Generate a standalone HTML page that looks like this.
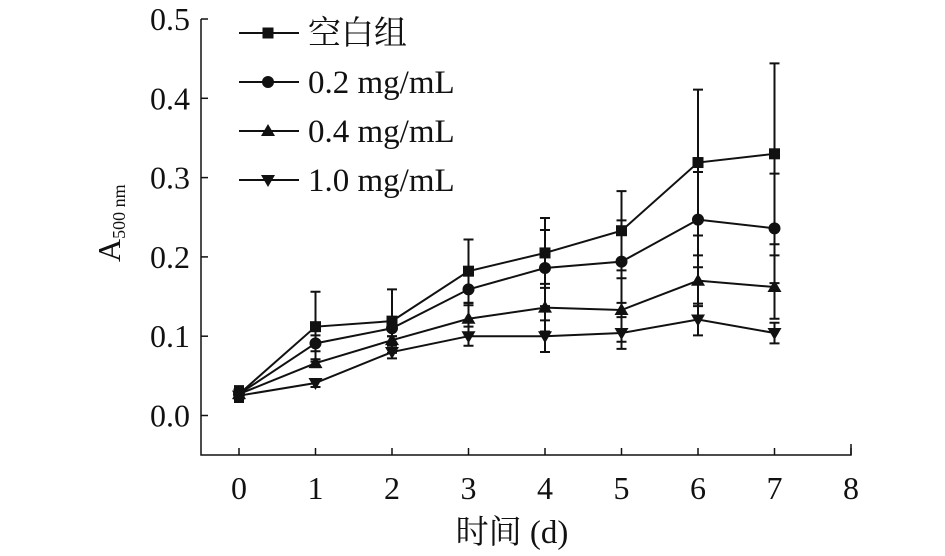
<!DOCTYPE html>
<html><head><meta charset="utf-8"><style>
body{margin:0;background:#fff}
svg text{font-family:"Liberation Serif","Noto Serif CJK SC",serif;fill:#111}
</style></head><body>
<svg width="945" height="551" viewBox="0 0 945 551">
<g id="axes"></g><g id="series"></g><g id="legend"></g>
</svg>
<script>
const days=[0,1,2,3,4,5,6,7];
const blankVals=[0.027,0.112,0.119,0.182,0.205,0.233,0.319,0.330];
const blankErr=[0.01,0.044,0.04,0.04,0.044,0.05,0.092,0.114];
const c02Vals=[0.027,0.091,0.110,0.159,0.186,0.194,0.247,0.236];
const c02Err=[0.008,0.01,0.01,0.02,0.048,0.052,0.06,0.069];
const c04Vals=[0.027,0.066,0.095,0.122,0.136,0.133,0.170,0.162];
const c04Err=[0.006,0.005,0.005,0.02,0.03,0.04,0.032,0.04];
const c10Vals=[0.025,0.041,0.080,0.100,0.100,0.104,0.121,0.104];
const c10Err=[0.006,0.005,0.008,0.012,0.02,0.02,0.02,0.013];
const seriesNames=["空白组","0.2 mg/mL","0.4 mg/mL","1.0 mg/mL"];
const xTicks=[0,1,2,3,4,5,6,7,8];
const yTicks=["0.0","0.1","0.2","0.3","0.4","0.5"];
const NS="http://www.w3.org/2000/svg";
const X=v=>239+v*76.5, Y=v=>415.5-v*793;
function mk(t,a,p){const e=document.createElementNS(NS,t);for(const k in a)e.setAttribute(k,a[k]);p.appendChild(e);return e;}
const ax=document.getElementById('axes');
const axl=mk('path',{d:`M201 ${Y(0.5)} V455 H851 V444`,fill:'none',stroke:'#111','stroke-width':1.5},ax);


xTicks.forEach(t=>{
 const l=mk('line',{x1:X(t),x2:X(t),y1:455,y2:448,stroke:'#111','stroke-width':1.5},ax);
 
 
 const tx=mk('text',{x:X(t),y:499,'text-anchor':'middle','font-size':32},ax);tx.textContent=t;
 
 
});
yTicks.forEach(t=>{
 const v=parseFloat(t);
 const l=mk('line',{x1:201,x2:208,y1:Y(v),y2:Y(v),stroke:'#111','stroke-width':1.5},ax);
 
 
 const tx=mk('text',{x:190,y:Y(v)+11,'text-anchor':'end','font-size':32},ax);tx.textContent=t;
 
 
});
const xt=mk('text',{x:512,y:543,'text-anchor':'middle','font-size':33},ax);xt.textContent='时间 (d)';


const yt=mk('text',{transform:'translate(120,262) rotate(-90)','font-size':32},ax);
yt.innerHTML='A<tspan font-size="18" dy="5">500 nm</tspan>';


function marker(kind,x,y,p){
 if(kind==0)return mk('rect',{x:x-5.5,y:y-5.5,width:11,height:11,fill:'#111'},p);
 if(kind==1)return mk('circle',{cx:x,cy:y,r:6,fill:'#111'},p);
 if(kind==2)return mk('path',{d:`M${x} ${y-7}L${x+7} ${y+5}L${x-7} ${y+5}Z`,fill:'#111'},p);
 return mk('path',{d:`M${x} ${y+7}L${x+7} ${y-5}L${x-7} ${y-5}Z`,fill:'#111'},p);
}
const all=[[blankVals,blankErr],[c02Vals,c02Err],[c04Vals,c04Err],[c10Vals,c10Err]];
const sg=document.getElementById('series');
all.forEach(([vals,errs],k)=>{
 const g=mk('g',{},sg);
 
 
 days.forEach((d,i)=>{
  const x=X(d),t=Y(vals[i]+errs[i]),b=Y(vals[i]-errs[i]);
  const e=mk('path',{d:`M${x} ${t}V${b}M${x-5} ${t}H${x+5}M${x-5} ${b}H${x+5}`,stroke:'#111','stroke-width':2,fill:'none'},g);
  
  
 });
 const ln=mk('polyline',{points:days.map((d,i)=>X(d)+','+Y(vals[i])).join(' '),fill:'none',stroke:'#111','stroke-width':2},g);
 
 
 days.forEach((d,i)=>{const m=marker(k,X(d),Y(vals[i]),g);
  
  });
});
const lg=document.getElementById('legend');
seriesNames.forEach((n,k)=>{
 const y=33+k*49;
 const g=mk('g',{},lg);
 
 
 mk('line',{x1:239,x2:299,y1:y,y2:y,stroke:'#111','stroke-width':2},g);
 marker(k,268,y,g);
 const t=mk('text',{x:308,y:y+11,'font-size':33},g);t.textContent=n;
});
</script>
</body></html>
